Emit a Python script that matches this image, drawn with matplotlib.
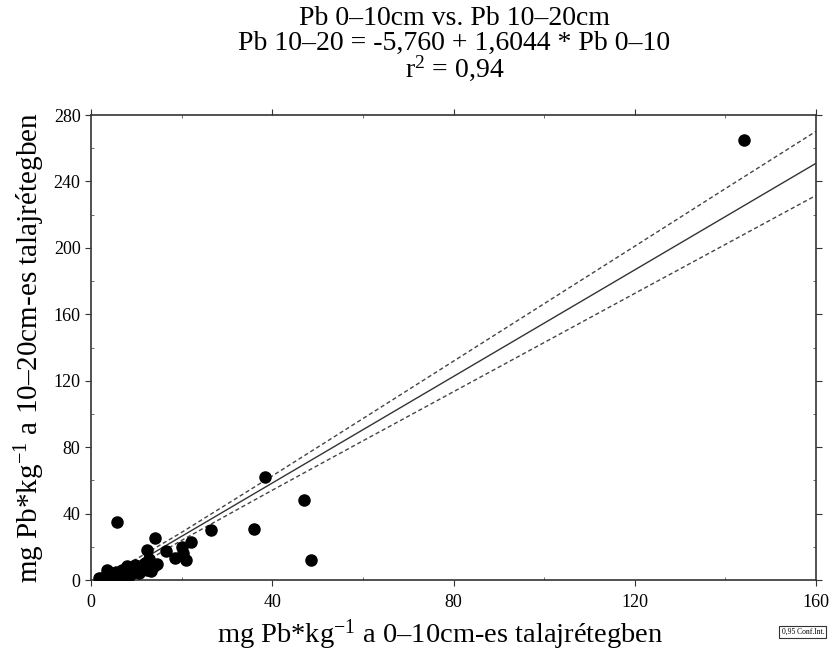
import numpy as np
import matplotlib
matplotlib.use("Agg")
import matplotlib.pyplot as plt
from matplotlib.ticker import MultipleLocator

plt.rcParams["font.family"] = ["Liberation Serif", "DejaVu Serif"]
plt.rcParams["mathtext.fontset"] = "custom"
plt.rcParams["mathtext.rm"] = "Liberation Serif"
plt.rcParams["mathtext.it"] = "Liberation Serif:italic"

# Pb 0-10 cm (x) es Pb 10-20 cm (y), mg/kg - leolvasva az abrarol
pb_0_10 = [1.7, 2.4, 3.0, 3.5, 3.5, 4.3, 4.5, 5.0, 5.5, 6.1, 6.5, 6.8, 7.2, 7.9,
           7.9, 8.5, 8.7, 9.2, 9.8, 10.1, 10.5, 11.0, 11.3, 12.0, 12.4, 12.4,
           12.7, 13.2, 13.8, 14.2, 14.5, 5.7, 16.6, 18.5, 20.0, 20.4, 20.9,
           22.0, 26.4, 36.0, 38.5, 47.0, 48.5, 144.0]
pb_10_20 = [1.4, 1.0, 2.0, 2.7, 6.2, 1.2, 4.0, 3.1, 5.0, 4.1, 2.5, 6.2, 3.0, 4.1,
            8.3, 6.0, 3.1, 5.0, 9.3, 6.2, 4.1, 8.0, 7.2, 10.4, 6.2, 18.2,
            12.4, 5.5, 8.3, 25.5, 9.5, 35.2, 17.5, 13.0, 20.0, 16.5, 12.0,
            23.0, 30.0, 30.5, 62.0, 48.0, 12.0, 265.0]

# regresszio a cim szerint
intercept = -5.760
slope = 1.6044

# 0,95 konfidencia-sav, leolvasva
ci_x = [0, 20, 40, 60, 80, 100, 120, 140, 160]
ci_upper = [-3.4, 28.7, 62.7, 97.2, 131.8, 166.4, 201.0, 235.7, 270.2]
ci_lower = [-8.2, 23.9, 54.1, 83.8, 113.4, 143.0, 172.6, 202.1, 231.6]

line_x = np.array([0, 160])
line_y = intercept + slope * line_x

fig = plt.figure(figsize=(8.32, 6.51), dpi=100)
ax = fig.add_axes([0.1094, 0.109, 0.8714, 0.7143])

ax.plot(line_x, line_y, color="#333333", lw=1.0)
ax.plot(ci_x, ci_upper, color="#444444", lw=1.0, ls=(0, (3, 2)))
ax.plot(ci_x, ci_lower, color="#444444", lw=1.0, ls=(0, (3, 2)))
ax.plot(pb_0_10, pb_10_20, "o", color="black", ms=8, zorder=3)

ax.set_xlim(0, 160)
ax.set_ylim(0, 280)
ax.xaxis.set_major_locator(MultipleLocator(40))
ax.xaxis.set_minor_locator(MultipleLocator(20))
ax.yaxis.set_major_locator(MultipleLocator(40))
ax.yaxis.set_minor_locator(MultipleLocator(20))
ax.tick_params(which="major", direction="out", length=4, labelsize=13,
               color="#333333", top=True, right=True)
ax.tick_params(which="minor", direction="in", length=2, color="#555555",
               top=True, right=True)
ax.tick_params(axis="x", pad=6)
for sp in ax.spines.values():
    sp.set_linewidth(1.2)
    sp.set_color("#333333")

ax.set_xlabel("mg Pb*kg$^{-1}$ a 0–10cm-es talajrétegben", fontsize=20.5, va="center")
ax.set_ylabel("mg Pb*kg$^{-1}$ a 10–20cm-es talajrétegben", fontsize=21, va="center")
ax.xaxis.set_label_coords(0.482, -0.118)
ax.yaxis.set_label_coords(-0.084, 0.5)

fig.text(0.546, 0.972, "Pb 0–10cm vs. Pb 10–20cm", ha="center", va="center", fontsize=20)
fig.text(0.546, 0.934, "Pb 10–20 = -5,760 + 1,6044 * Pb 0–10", ha="center", va="center", fontsize=20)
fig.text(0.546, 0.896, "r$^{2}$ = 0,94", ha="center", va="center", fontsize=20)

fig.text(0.965, 0.029, "0,95 Conf.Int.", ha="center", va="center", fontsize=5.5,
         bbox=dict(boxstyle="square,pad=0.3", fc="white", ec="#333333", lw=0.8))

fig.savefig("out.png", dpi=100)
